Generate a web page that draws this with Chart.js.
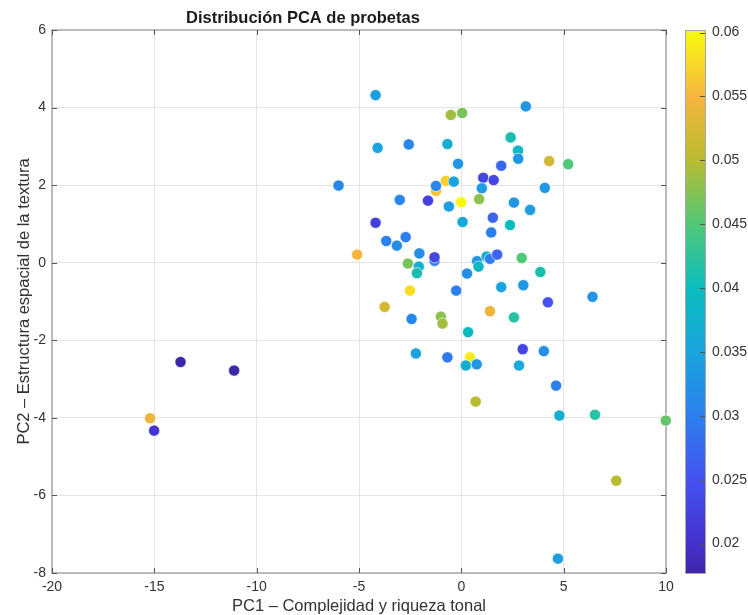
<!DOCTYPE html>
<html>
<head>
<meta charset="utf-8">
<script src="https://cdn.jsdelivr.net/npm/chart.js@4.4.1/dist/chart.umd.min.js"></script>
<style>
  html, body { margin: 0; padding: 0; background: #fff; }
</style>
</head>
<body>
<canvas id="pca" width="748" height="615"></canvas>
<script>
'use strict';

// PCA scores (PC1, PC2) and colour value for each specimen
const pc1 = [
  -4.19, 3.15, -0.51, 0.04, 2.41, -4.09, -2.57, -0.68, 2.77, 2.78,
  4.29, 5.22, -0.16, 1.95, -6.00, -0.76, -1.24, -1.24, -0.37, 1.07,
  1.58, 1.00, 4.08, -3.01, -1.63, -0.61, -0.01, 0.87, 2.57, 3.36,
  -4.19, 0.06, 1.54, 2.38, 1.46, -3.67, -3.15, -2.72, -5.09, -2.05,
  -1.31, -1.31, -2.61, -2.08, -2.17, 0.28, 0.77, 0.84, 1.24, 1.40,
  1.75, 2.95, 3.86, -2.51, -0.25, 1.95, 3.03, 4.23, 6.41, -3.75,
  1.40, 2.57, -2.43, -1.00, -0.92, 0.33, -2.22, -0.68, 0.42, 3.00,
  4.03, 0.22, 0.75, 2.82, 4.63, 0.70, 4.79, 6.53, 9.99, 7.57,
  4.72, -13.72, -11.10, -15.21, -15.01
];
const pc2 = [
  4.32, 4.03, 3.81, 3.86, 3.23, 2.96, 3.05, 3.06, 2.89, 2.68,
  2.62, 2.54, 2.55, 2.50, 1.99, 2.11, 1.85, 1.98, 2.09, 2.19,
  2.13, 1.92, 1.93, 1.62, 1.60, 1.45, 1.56, 1.64, 1.55, 1.36,
  1.03, 1.05, 1.16, 0.97, 0.78, 0.56, 0.44, 0.66, 0.21, 0.24,
  0.05, 0.14, -0.02, -0.10, -0.27, -0.28, 0.04, -0.10, 0.16, 0.10,
  0.21, 0.12, -0.24, -0.72, -0.72, -0.63, -0.58, -1.02, -0.88, -1.14,
  -1.25, -1.41, -1.45, -1.39, -1.57, -1.79, -2.34, -2.44, -2.44, -2.23,
  -2.28, -2.65, -2.62, -2.65, -3.17, -3.58, -3.94, -3.92, -4.07, -5.62,
  -7.63, -2.56, -2.78, -4.01, -4.33
];
const colorValues = [
  0.034, 0.033, 0.049, 0.047, 0.041, 0.035, 0.031, 0.037, 0.039, 0.033,
  0.052, 0.045, 0.033, 0.027, 0.031, 0.057, 0.056, 0.031, 0.035, 0.023,
  0.023, 0.034, 0.033, 0.031, 0.022, 0.034, 0.060, 0.048, 0.033, 0.034,
  0.022, 0.036, 0.027, 0.040, 0.030, 0.030, 0.032, 0.030, 0.055, 0.032,
  0.030, 0.023, 0.047, 0.037, 0.041, 0.032, 0.033, 0.039, 0.037, 0.030,
  0.027, 0.045, 0.041, 0.058, 0.030, 0.035, 0.033, 0.025, 0.033, 0.052,
  0.054, 0.042, 0.031, 0.048, 0.049, 0.040, 0.035, 0.029, 0.059, 0.023,
  0.032, 0.037, 0.033, 0.036, 0.030, 0.050, 0.037, 0.042, 0.046, 0.050,
  0.034, 0.0178, 0.0178, 0.054, 0.0205
];

const xTicks = [-20, -15, -10, -5, 0, 5, 10];
const yTicks = [-8, -6, -4, -2, 0, 2, 4, 6];
const colorTicks = [0.02, 0.025, 0.03, 0.035, 0.04, 0.045, 0.05, 0.055, 0.06];
const colorMin = 0.0177;
const colorMax = 0.0602;

const chartTitle = 'Distribución PCA de probetas';
const xTitle = 'PC1 – Complejidad y riqueza tonal';
const yTitle = 'PC2 – Estructura espacial de la textura';

// parula-like colormap (position, r, g, b)
const parulaStops = [
  [0.000, 62, 38, 168],
  [0.054, 68, 50, 205],
  [0.172, 70, 82, 240],
  [0.289, 44, 128, 238],
  [0.407, 26, 164, 221],
  [0.525, 11, 188, 191],
  [0.642, 80, 200, 120],
  [0.760, 184, 188, 48],
  [0.878, 247, 181, 64],
  [1.000, 249, 251, 14]
];

function parula(t) {
  t = Math.max(0, Math.min(1, t));
  for (let i = 1; i < parulaStops.length; i++) {
    const a = parulaStops[i - 1], b = parulaStops[i];
    if (t <= b[0]) {
      const f = (t - a[0]) / (b[0] - a[0]);
      const c = [1, 2, 3].map(k => Math.round(a[k] + (b[k] - a[k]) * f));
      return 'rgb(' + c.join(',') + ')';
    }
  }
  const l = parulaStops[parulaStops.length - 1];
  return 'rgb(' + l[1] + ',' + l[2] + ',' + l[3] + ')';
}

function valueColor(v) {
  return parula((v - colorMin) / (colorMax - colorMin));
}

const FONT = '"Liberation Sans", Arial, Helvetica, sans-serif';
const TEXT = '#333333';
const GRID = '#e4e4e4';

function line(ctx, x1, y1, x2, y2) {
  ctx.beginPath();
  ctx.moveTo(x1, y1);
  ctx.lineTo(x2, y2);
  ctx.stroke();
}

// axes box, inward ticks, colorbar and title
const pcaDecor = {
  id: 'pcaDecor',
  beforeDatasetsDraw(chart) {
    const { ctx, chartArea: a, scales } = chart;
    ctx.save();
    ctx.strokeStyle = '#a8a8a8';
    ctx.lineWidth = 1.5;
    ctx.strokeRect(a.left, a.top, a.right - a.left, a.bottom - a.top);
    ctx.strokeStyle = '#555555';
    ctx.lineWidth = 1;
    xTicks.forEach(v => {
      const px = Math.round(scales.x.getPixelForValue(v)) + 0.5;
      line(ctx, px, a.bottom, px, a.bottom - 5);
      line(ctx, px, a.top, px, a.top + 5);
    });
    yTicks.forEach(v => {
      const py = Math.round(scales.y.getPixelForValue(v)) + 0.5;
      line(ctx, a.left, py, a.left + 5, py);
      line(ctx, a.right, py, a.right - 5, py);
    });
    ctx.restore();
  },
  afterDraw(chart) {
    const { ctx, scales } = chart;
    const c = scales.c;
    const x0 = c.left + 19, w = 20;
    ctx.save();
    const grad = ctx.createLinearGradient(0, c.getPixelForValue(colorMin), 0, c.getPixelForValue(colorMax));
    parulaStops.forEach(s => grad.addColorStop(s[0], 'rgb(' + s[1] + ',' + s[2] + ',' + s[3] + ')'));
    ctx.fillStyle = grad;
    ctx.fillRect(x0, c.top, w, c.bottom - c.top);
    ctx.strokeStyle = '#a8a8a8';
    ctx.lineWidth = 1;
    ctx.strokeRect(x0 + 0.5, c.top + 0.5, w, c.bottom - c.top);
    ctx.strokeStyle = '#555555';
    colorTicks.forEach(v => {
      const py = Math.round(c.getPixelForValue(v)) + 0.5;
      line(ctx, x0 + w - 5, py, x0 + w, py);
    });

    ctx.fillStyle = '#1a1a1a';
    ctx.font = 'bold 16.5px ' + FONT;
    ctx.textAlign = 'center';
    ctx.textBaseline = 'middle';
    ctx.fillText(chartTitle, 303, 18);
    ctx.restore();
  }
};

const points = pc1.map((x, i) => ({ x: x, y: pc2[i] }));

new Chart(document.getElementById('pca'), {
  type: 'scatter',
  data: {
    datasets: [{
      data: points,
      backgroundColor: colorValues.map(valueColor),
      borderColor: 'rgba(255,255,255,0.8)',
      borderWidth: 0.8,
      pointRadius: 5.6,
      clip: false
    }]
  },
  options: {
    responsive: false,
    animation: false,
    devicePixelRatio: 1,
    layout: { padding: { top: 30, left: 0, right: 0, bottom: 0 } },
    plugins: {
      legend: { display: false },
      tooltip: { enabled: false }
    },
    scales: {
      x: {
        type: 'linear',
        min: -20,
        max: 10,
        afterBuildTicks: s => { s.ticks = xTicks.map(v => ({ value: v })); },
        afterFit: s => { s.height = 42; },
        grid: { color: GRID, drawTicks: false },
        border: { display: false },
        ticks: { color: TEXT, font: { family: FONT, size: 14 }, padding: 6 },
        title: {
          display: true,
          text: xTitle,
          color: TEXT,
          font: { family: FONT, size: 16.5, lineHeight: 1 },
          padding: { top: 0, bottom: 0 }
        }
      },
      y: {
        type: 'linear',
        min: -8,
        max: 6,
        afterBuildTicks: s => { s.ticks = yTicks.map(v => ({ value: v })); },
        afterFit: s => { s.width = 52; },
        grid: { color: GRID, drawTicks: false },
        border: { display: false },
        ticks: { color: TEXT, font: { family: FONT, size: 14 }, padding: 6 },
        title: {
          display: true,
          text: yTitle,
          color: TEXT,
          font: { family: FONT, size: 16.5, lineHeight: 1.2 },
          padding: { top: 15, bottom: 0 }
        }
      },
      c: {
        type: 'linear',
        axis: 'y',
        position: 'right',
        min: colorMin,
        max: colorMax,
        afterBuildTicks: s => { s.ticks = colorTicks.map(v => ({ value: v })); },
        afterFit: s => {
          s.width = 82;
          s.paddingTop = 0;
          s.paddingBottom = 0;
        },
        grid: { display: false, drawTicks: false },
        border: { display: false },
        ticks: {
          color: TEXT,
          font: { family: FONT, size: 14 },
          padding: 46,
          callback: v => String(Number(v.toFixed(3)))
        }
      }
    }
  },
  plugins: [pcaDecor]
});
</script>
</body>
</html>
